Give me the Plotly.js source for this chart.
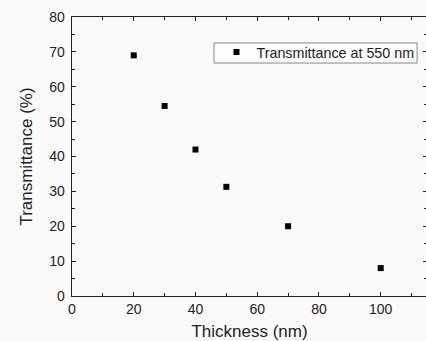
<!DOCTYPE html>
<html>
<head>
<meta charset="utf-8">
<script src="https://cdn.plot.ly/plotly-3.0.1.min.js"></script>
<style>
html,body{margin:0;padding:0;overflow:hidden;background:#fafafa;}
#chart{width:430px;height:341px;}
</style>
</head>
<body>
<div id="chart"></div>
<script>
const thickness = [20, 30, 40, 50, 70, 100];
const transmittance = [69, 54.5, 42, 31.3, 20, 8];
const seriesName = "Transmittance at 550 nm";
const xTitle = "Thickness (nm)";
const yTitle = "Transmittance (%)";

const font = "Liberation Sans, Arial, sans-serif";
const trace = {
  x: thickness, y: transmittance, name: seriesName,
  type: "scatter", mode: "markers",
  marker: {symbol: "square", size: 6, color: "#000"},
  showlegend: true
};
const axisCommon = {
  showgrid: false, zeroline: false, showline: true, linecolor: "#222", linewidth: 1.3,
  mirror: "ticks", ticks: "inside", ticklen: 4, tickwidth: 1, tickcolor: "#222",
  tickfont: {family: font, size: 14, color: "#222"}
};
const layout = {
  width: 430, height: 341,
  margin: {l: 72, r: 3, t: 17, b: 45},
  paper_bgcolor: "#fafafa", plot_bgcolor: "#fafafa",
  font: {family: font, color: "#222"},
  xaxis: Object.assign({}, axisCommon, {
    range: [0, 115], dtick: 20, tick0: 0,
    minor: {dtick: 10, ticks: "inside", ticklen: 3, tickcolor: "#222"},
    title: {text: xTitle, font: {family: font, size: 17, color: "#222"}, standoff: 9}
  }),
  yaxis: Object.assign({}, axisCommon, {
    range: [0, 80], dtick: 10, tick0: 0,
    minor: {dtick: 5, ticks: "inside", ticklen: 3, tickcolor: "#222"},
    ticklabelstandoff: 3,
    title: {text: yTitle, font: {family: font, size: 17, color: "#222"}, standoff: 12}
  }),
  legend: {
    x: 0.407, y: 0.931, xanchor: "left", yanchor: "top",
    bgcolor: "rgba(0,0,0,0)", borderwidth: 0,
    font: {family: font, size: 14.3, color: "#222"}
  },
  shapes: [{
    type: "rect", xref: "paper", yref: "paper",
    x0: 0.4, x1: 0.972, y0: 0.835, y1: 0.907,
    line: {color: "#888", width: 1}, fillcolor: "#fdfdfd", layer: "below"
  }],
  showlegend: true
};
Plotly.newPlot("chart", [trace], layout, {displayModeBar: false, staticPlot: true});
</script>
</body>
</html>
